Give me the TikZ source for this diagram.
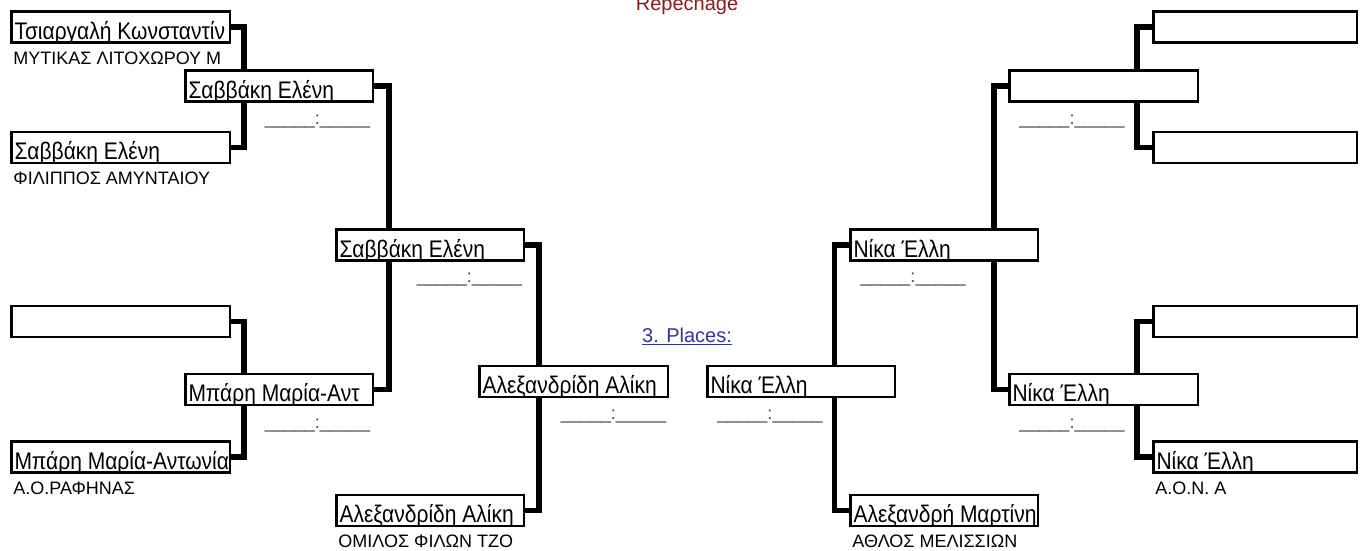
\documentclass[tikz,border=0pt]{standalone}
\usepackage{fontspec}
\setmainfont{Liberation Sans}
\newfontfamily\namefont[FakeStretch=0.875]{Liberation Sans}
\usetikzlibrary{calc}
\pgfdeclarelayer{background}
\pgfsetlayers{background,main}
\definecolor{scoregray}{RGB}{60,60,60}
\definecolor{repred}{RGB}{139,26,26}
\definecolor{placeblue}{RGB}{51,51,153}
\newcommand{\scoretxt}{\_\_\_\_\_:\_\_\_\_\_}
\begin{document}
\begin{tikzpicture}[x=1pt,y=-1pt,
  box/.style={draw, line width=2.5pt, fill=white, minimum height=31pt, inner xsep=3pt, inner ysep=0pt,
    text height=24pt, text depth=0pt, anchor=west, font=\namefont\fontsize{24}{24}\selectfont},
  bx/.style={box, minimum width=#1},
  conn/.style={line width=5.5pt, line join=miter, line cap=butt},
  club/.style={anchor=base west, inner sep=0pt, font=\fontsize{18}{18}\selectfont},
  scoreL/.style={anchor=base east, inner sep=0pt, font=\fontsize{18}{18}\selectfont, text=scoregray},
  scoreR/.style={anchor=base west, inner sep=0pt, font=\fontsize{18}{18}\selectfont, text=scoregray},
]
\useasboundingbox (0,0) rectangle (1363,550);
\newcommand{\nm}[2]{\makebox[#1pt][l]{#2}}
% left side
\node[box] (A1) at (10.25,27) {\nm{212.5}{Τσιαργαλή Κωνσταντίν}};
\node[box] (A2) at (10.25,147.5) {\nm{212.5}{Σαββάκη Ελένη}};
\node[box] (A3) at (10.25,321.5) {\nm{212.5}{}};
\node[box] (A4) at (10.25,457) {\nm{212.5}{Μπάρη Μαρία-Αντωνία}};
\node[box] (B1) at (184.25,86) {\nm{181.5}{Σαββάκη Ελένη}};
\node[box] (B2) at (184.25,389.5) {\nm{181.5}{Μπάρη Μαρία-Αντ}};
\node[box] (C1) at (335.25,245) {\nm{181.5}{Σαββάκη Ελένη}};
\node[box] (C2) at (335.25,510.5) {\nm{181.5}{Αλεξανδρίδη Αλίκη}};
\node[box] (D1) at (478.25,381.5) {\nm{182.5}{Αλεξανδρίδη Αλίκη}};
% right side
\node[box] (E1) at (706.25,381.5) {\nm{181.5}{Νίκα Έλλη}};
\node[box] (F1) at (849.25,245) {\nm{181.5}{Νίκα Έλλη}};
\node[box] (F2) at (849.25,510.5) {\nm{181.5}{Αλεξανδρή Μαρτίνη}};
\node[box] (G1) at (1008.25,86) {\nm{182.5}{}};
\node[box] (G2) at (1008.25,389.5) {\nm{182.5}{Νίκα Έλλη}};
\node[box] (H1) at (1152.25,27) {\nm{197.5}{}};
\node[box] (H2) at (1152.25,147.5) {\nm{197.5}{}};
\node[box] (H3) at (1152.25,321.5) {\nm{197.5}{}};
\node[box] (H4) at (1152.25,457) {\nm{197.5}{Νίκα Έλλη}};
% junction columns
\coordinate (L1) at (244,0);
\coordinate (L2) at (389,0);
\coordinate (L3) at (539,0);
\coordinate (R3) at (834.5,0);
\coordinate (R2) at (994,0);
\coordinate (R1) at (1137,0);
\begin{pgfonlayer}{background}
\draw[conn] (A1.east) -- (A1.east -| L1) -- (A2.east -| L1) -- (A2.east);
\draw[conn] (A3.east) -- (A3.east -| L1) -- (A4.east -| L1) -- (A4.east);
\draw[conn] (B1.east) -- (B1.east -| L2) -- (B2.east -| L2) -- (B2.east);
\draw[conn] (C1.east) -- (C1.east -| L3) -- (C2.east -| L3) -- (C2.east);
\draw[conn] (F1.west) -- (F1.west -| R3) -- (F2.west -| R3) -- (F2.west);
\draw[conn] (G1.west) -- (G1.west -| R2) -- (G2.west -| R2) -- (G2.west);
\draw[conn] (H1.west) -- (H1.west -| R1) -- (H2.west -| R1) -- (H2.west);
\draw[conn] (H3.west) -- (H3.west -| R1) -- (H4.west -| R1) -- (H4.west);
\end{pgfonlayer}
% clubs
\node[club] (cA1) at ($(A1.south west)+(3,20.5)$) {ΜΥΤΙΚΑΣ ΛΙΤΟΧΩΡΟΥ Μ};
\node[club] (cA2) at ($(A2.south west)+(3,20.5)$) {ΦΙΛΙΠΠΟΣ ΑΜΥΝΤΑΙΟΥ};
\node[club] (cA4) at ($(A4.south west)+(3,20.5)$) {Α.Ο.ΡΑΦΗΝΑΣ};
\node[club] (cC2) at ($(C2.south west)+(3,20.5)$) {ΟΜΙΛΟΣ ΦΙΛΩΝ ΤΖΟ};
\node[club] (cF2) at ($(F2.south west)+(3,20.5)$) {ΑΘΛΟΣ ΜΕΛΙΣΣΙΩΝ};
\node[club] (cH4) at ($(H4.south west)+(3,20.5)$) {Α.Ο.Ν. Α};
% scores
\node[scoreL] (sB1) at ($(B1.south east)+(-4,22)$) {\scoretxt};
\node[scoreL] (sB2) at ($(B2.south east)+(-4,22)$) {\scoretxt};
\node[scoreL] (sC1) at ($(C1.south east)+(-3,21)$) {\scoretxt};
\node[scoreL] (sD1) at ($(D1.south east)+(-3,21)$) {\scoretxt};
\node[scoreR] (sE1) at ($(E1.south west)+(11,21)$) {\scoretxt};
\node[scoreR] (sF1) at ($(F1.south west)+(11,21)$) {\scoretxt};
\node[scoreR] (sG1) at ($(G1.south west)+(11,22)$) {\scoretxt};
\node[scoreR] (sG2) at ($(G2.south west)+(11,22)$) {\scoretxt};
% titles
\node[anchor=base, inner sep=0pt, font=\fontsize{20}{20}\selectfont, text=repred] (rep) at (687,10) {Repechage};
\node[anchor=base west, inner sep=0pt, font=\fontsize{20}{20}\selectfont, text=placeblue] (pl) at (642,342.5) {\underline{3. Places:}};
\end{tikzpicture}
\end{document}
